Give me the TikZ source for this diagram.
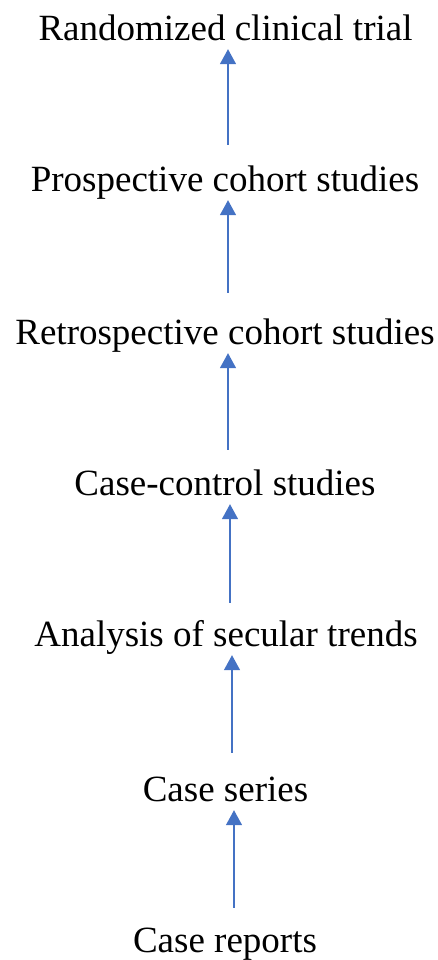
\documentclass[tikz,border=0pt]{standalone}
\usepackage{fontspec}
\setmainfont{Liberation Serif}
\usetikzlibrary{arrows.meta}
\definecolor{arrowblue}{HTML}{4472C4}
\begin{document}
\begin{tikzpicture}[x=1pt,y=1pt,
  level/.style={anchor=base, inner sep=0pt, text depth=8pt,
    font=\fontsize{37}{44}\selectfont},
  up/.style={draw=arrowblue, line width=1.4pt,
    -{Triangle[width=16pt,length=15pt]}, arrowblue}]
\useasboundingbox (0,0) rectangle (438,960);

% levels of evidence, strongest at the top
\node[level] (rct)   at (225.5,919) {Randomized clinical trial};
\node[level] (pros)  at (225,768)   {Prospective cohort studies};
\node[level] (retro) at (225,615)   {Retrospective cohort studies};
\node[level] (cc)    at (225,464)   {Case-control studies};
\node[level] (sec)   at (226,313)   {Analysis of secular trends};
\node[level] (ser)   at (225.5,158) {Case series};
\node[level] (rep)   at (225,7)     {Case reports};

% arrow tails, just above each lower level
\coordinate (t1) at (228,815);
\coordinate (t2) at (228,667);
\coordinate (t3) at (228,510);
\coordinate (t4) at (230,357);
\coordinate (t5) at (232,207);
\coordinate (t6) at (234,52);

\draw[up] (t1) -- (t1 |- rct.south);
\draw[up] (t2) -- (t2 |- pros.south);
\draw[up] (t3) -- (t3 |- retro.south);
\draw[up] (t4) -- (t4 |- cc.south);
\draw[up] (t5) -- (t5 |- sec.south);
\draw[up] (t6) -- (t6 |- ser.south);
\end{tikzpicture}
\end{document}
